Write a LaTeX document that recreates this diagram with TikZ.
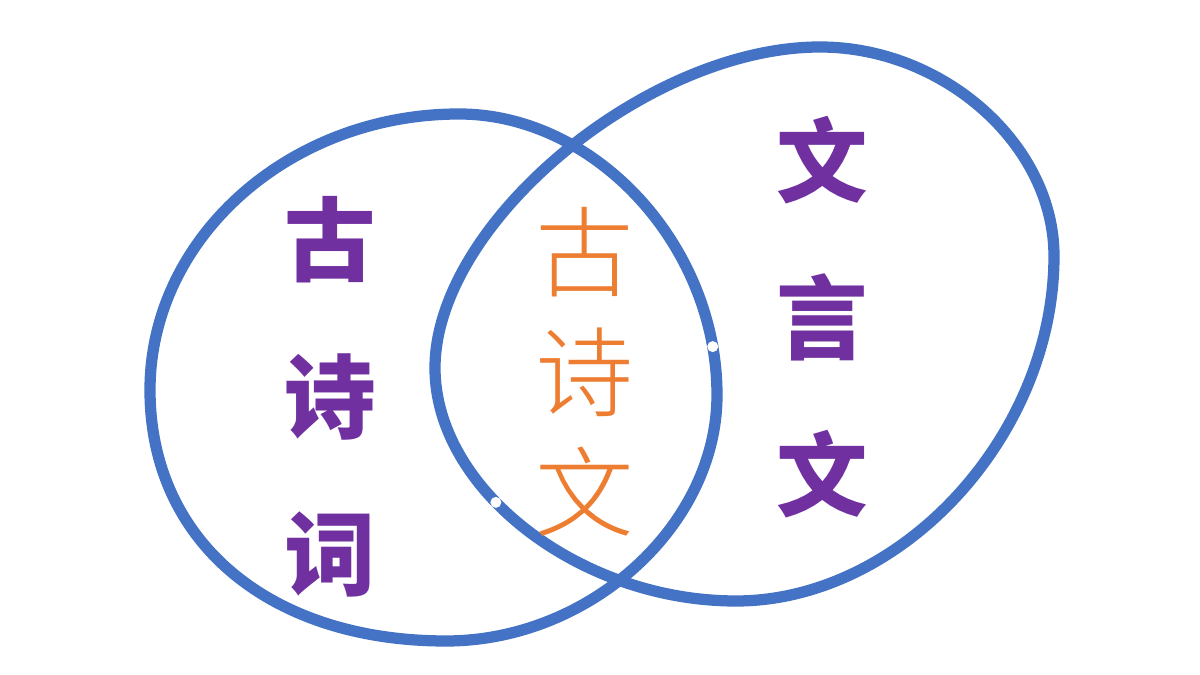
\documentclass[tikz,border=0pt]{standalone}
\usepackage{fontspec}
\newfontfamily\cjkheavy{Noto Sans CJK SC Black}
\newfontfamily\cjklight{Noto Sans CJK SC Light}
\definecolor{ringblue}{HTML}{4472C4}
\definecolor{wordpurple}{HTML}{7030A0}
\definecolor{wordorange}{HTML}{ED7D31}
\begin{document}
\begin{tikzpicture}[
        ring/.style={draw=ringblue, line width=3.2pt},
        bigword/.style={text=wordpurple, align=center, font=\cjkheavy\fontsize{26}{44.7}\selectfont},
        midword/.style={text=wordorange, align=center, font=\cjklight\fontsize{28}{34.1}\selectfont}]
        \fill[white] (0,0) rectangle (12,6.75);
        \useasboundingbox (0,0) rectangle (12,6.75);

        % left ring
        \draw[ring] (4.59,5.61) .. controls (5.957,5.61) and (7.17,4.289) .. (7.17,2.80) coordinate[pos=0.89] (markA)
            .. controls (7.17,1.496) and (5.896,0.34) .. (4.46,0.34)
            .. controls (2.684,0.34) and (1.50,1.344) .. (1.50,2.85)
            .. controls (1.50,4.368) and (2.891,5.61) .. (4.59,5.61) -- cycle;
        % right ring
        \draw[ring] (8.20,6.28) .. controls (9.440,6.28) and (10.54,5.298) .. (10.54,4.19)
            .. controls (10.54,2.396) and (9.014,0.74) .. (7.36,0.74)
            .. controls (5.795,0.74) and (4.35,1.858) .. (4.35,3.07) coordinate[pos=0.6] (markB)
            .. controls (4.35,4.515) and (6.468,6.28) .. (8.20,6.28) -- cycle;

        % the two small marks on the rings
        \fill[white] (markA) circle (0.055);
        \fill[white] (markB) circle (0.055);

        \node[bigword] (shici) at (3.30,2.78) {古\\诗\\词};
        \node[bigword] (wenyan) at (8.22,3.58) {文\\言\\文};
        \node[midword] (shiwen) at (5.85,3.03) {古\\诗\\文};
    \end{tikzpicture}
\end{document}
